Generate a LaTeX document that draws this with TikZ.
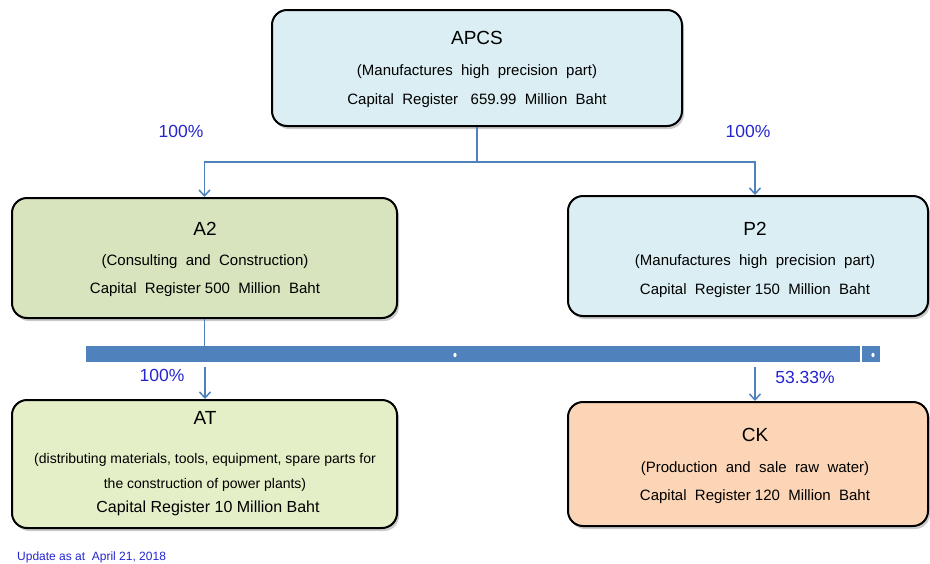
\documentclass[tikz,border=0pt]{standalone}
\usepackage{fontspec}
\setmainfont{Liberation Sans}
\usetikzlibrary{arrows.meta,shadows}
\definecolor{lblue}{HTML}{DAEEF3}
\definecolor{lgreen}{HTML}{D7E4BD}
\definecolor{vlgreen}{HTML}{E4EFC8}
\definecolor{lorange}{HTML}{FBD5B5}
\definecolor{linkblue}{HTML}{4F81BD}
\definecolor{lbltxt}{HTML}{2424D0}
\begin{document}
\begin{tikzpicture}[x=1pt,y=-1pt,
  box/.style={draw=black, line width=2pt, rounded corners=15pt,
    drop shadow={shadow xshift=2pt, shadow yshift=-3pt, opacity=0.35, fill=black!60}},
  ttl/.style={font=\fontsize{19}{22}\selectfont, text=black, inner sep=0pt},
  bdy/.style={font=\fontsize{15}{17}\selectfont, text=black, inner sep=0pt},
  pct/.style={font=\fontsize{17.5}{20}\selectfont, text=lbltxt, inner sep=0pt},
  link/.style={draw=linkblue, line width=1.5pt},
  arr/.style={link, -{Straight Barb[length=6pt,width=11pt,line width=1.5pt]}},
  barseg/.style={fill=linkblue, draw=none, inner sep=0pt}
]
\useasboundingbox (0,0) rectangle (930,563);
% boxes
\node[box, fill=lblue, minimum width=410pt, minimum height=116pt] (apcs) at (477,68) {};
\node[box, fill=lgreen, minimum width=385pt, minimum height=120pt] (a2) at (204.5,258) {};
\node[box, fill=lblue, minimum width=360pt, minimum height=120pt] (p2) at (748,256) {};
\node[box, fill=vlgreen, minimum width=385pt, minimum height=128pt] (at) at (204.5,464) {};
\node[box, fill=lorange, minimum width=360pt, minimum height=124pt] (ck) at (748,464) {};
% texts
\node[ttl] (apcs1) at (477,38) {APCS};
\node[bdy] (apcs2) at (477,72) {(Manufactures\ \ high\ \ precision\ \ part)};
\node[bdy] (apcs3) at (477,101) {Capital\ \ Register\ \ \ 659.99\ \ Million\ \ Baht};
\node[ttl] (a21) at (205,229) {A2};
\node[bdy] (a22) at (205,262) {(Consulting\ \ and\ \ Construction)};
\node[bdy] (a23) at (205,290) {Capital\ \ Register\ 500\ \ Million\ \ Baht};
\node[ttl] (p21) at (755,229) {P2};
\node[bdy] (p22) at (755,262) {(Manufactures\ \ high\ \ precision\ \ part)};
\node[bdy] (p23) at (755,291) {Capital\ \ Register\ 150\ \ Million\ \ Baht};
\node[ttl] (at1) at (205,418) {AT};
\node[bdy, font=\fontsize{14}{16}\selectfont] (at2) at (205,460) {(distributing materials, tools, equipment, spare parts for};
\node[bdy, font=\fontsize{14}{16}\selectfont] (at3) at (205,485) {the construction of power plants)};
\node[bdy, font=\fontsize{16}{18}\selectfont] (at4) at (208,508) {Capital Register 10 Million Baht};
\node[ttl] (ck1) at (755,435) {CK};
\node[bdy] (ck2) at (755,469) {(Production\ \ and\ \ sale\ \ raw\ \ water)};
\node[bdy] (ck3) at (755,497) {Capital\ \ Register\ 120\ \ Million\ \ Baht};
% percentages
\node[pct] (pc1) at (181,131) {100\%};
\node[pct] (pc2) at (748,131) {100\%};
\node[pct] (pc3) at (162,375) {100\%};
\node[pct] (pc4) at (805,377) {53.33\%};
\node[font=\fontsize{12}{14}\selectfont, text=lbltxt, anchor=west, inner sep=0pt] (upd) at (17,557) {Update as at\ \ April\ 21, 2018};
% bar
\node[barseg, minimum width=774pt, minimum height=16pt] (bar) at (473,354) {};
\node[barseg, minimum width=18pt, minimum height=16pt] (bar2) at (871,354) {};
\fill[white] (455,355) ellipse (1.6pt and 2.2pt);
\fill[white] (873,355) ellipse (1.6pt and 2.2pt);
% connectors
\coordinate (j) at (477,162);
\draw[link] (apcs.south) -- (j);
\draw[arr] (j) -| (a2.north);
\draw[arr] (j) -| (p2.north -| 755,0);
\draw[link] (a2.south) -- (a2.south |- bar.north);
\coordinate (s1) at (205,367);
\coordinate (s2) at (755,367);
\draw[arr] (s1) -- (s1 |- at.north);
\draw[arr] (s2) -- (s2 |- ck.north);
\end{tikzpicture}
\end{document}
